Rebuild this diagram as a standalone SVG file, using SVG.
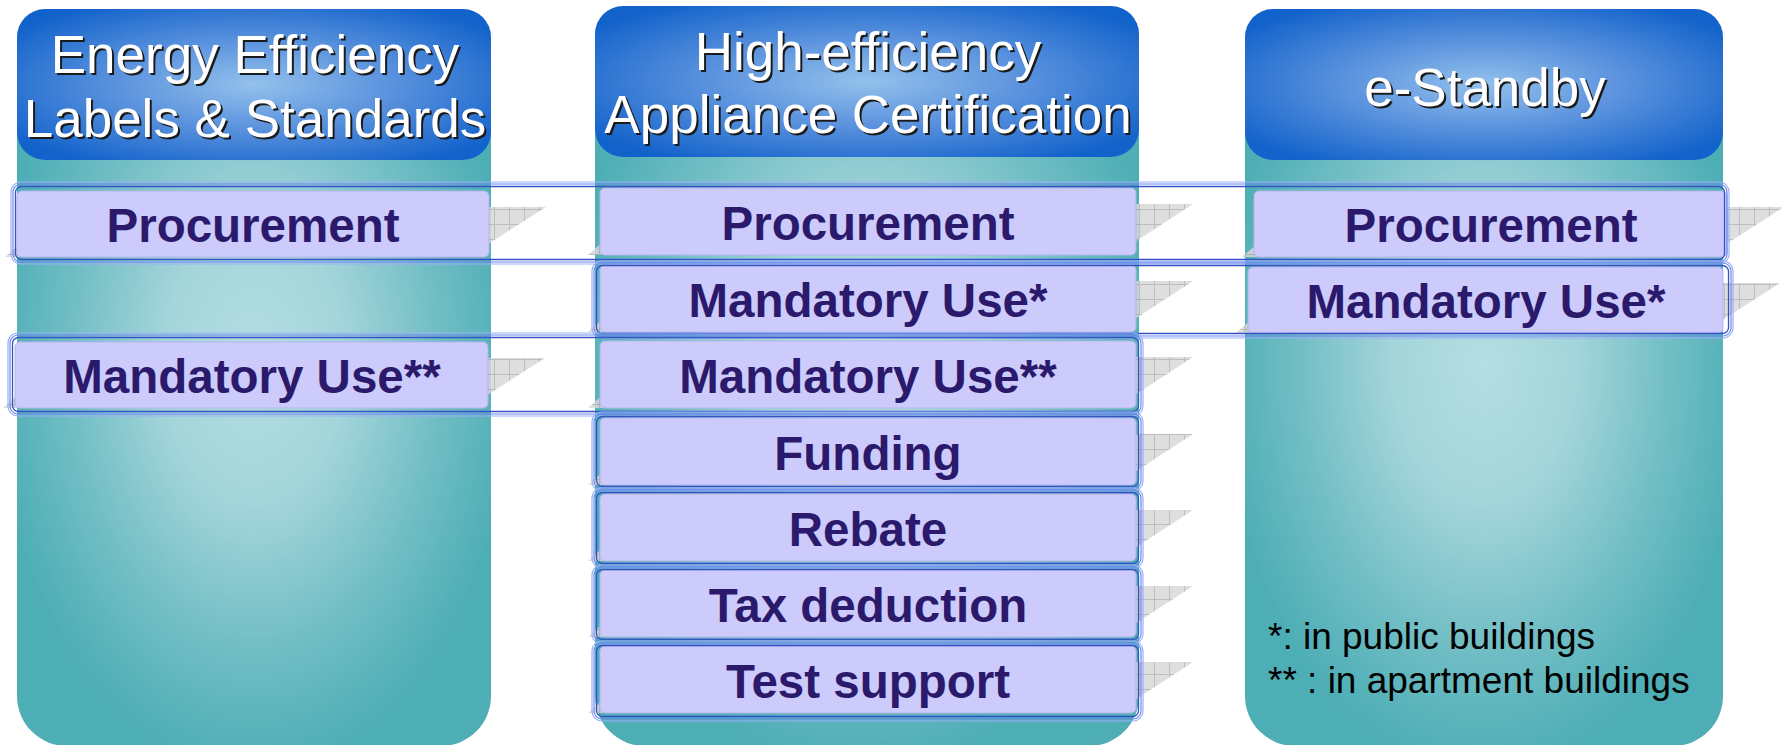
<svg xmlns="http://www.w3.org/2000/svg" width="1782" height="745" viewBox="0 0 1782 745">
<style>
.hdr{font-family:"Liberation Sans",Arial,sans-serif;font-size:53px;text-anchor:middle}
.hw{fill:#ffffff}
.hs{fill:#1a1a1a}
.bx{fill:#cccbfb;stroke:#b5b5ea;stroke-width:1}
.bt{font-family:"Liberation Sans",Arial,sans-serif;font-size:47.5px;font-weight:bold;fill:#2b1a6c;text-anchor:middle}
.sh{fill:url(#grid);opacity:0.85}
.o1{fill:none;stroke:#9cb0f7;stroke-width:1.2}
.o2{fill:none;stroke:#6a88ee;stroke-width:1.2}
.o3{fill:none;stroke:#3752c8;stroke-width:1.3}
.fn{font-family:"Liberation Sans",Arial,sans-serif;font-size:37px;fill:#000000}
</style>
<defs>
<radialGradient id="bodyGrad" cx="0.5" cy="0.48" r="0.55">
<stop offset="0" stop-color="#b4dee2"/>
<stop offset="0.35" stop-color="#a3d5da"/>
<stop offset="0.7" stop-color="#72bec5"/>
<stop offset="1" stop-color="#4eaeb6"/>
</radialGradient>
<radialGradient id="hdrGrad" cx="0.5" cy="0.5" r="0.62">
<stop offset="0" stop-color="#93c1ec"/>
<stop offset="0.45" stop-color="#5d94de"/>
<stop offset="1" stop-color="#1262cb"/>
</radialGradient>
<pattern id="grid" patternUnits="userSpaceOnUse" width="15" height="15">
<rect width="15" height="15" fill="#d8d8d8"/>
<path d="M14.5 0V15M0 14.5H15" stroke="#b2b2b2" stroke-width="1"/>
</pattern>
</defs>

<g id="col-labels">
<rect x="17" y="9" width="474" height="737" rx="50" fill="url(#bodyGrad)"/>
<rect x="17" y="9" width="474" height="151" rx="28" fill="url(#hdrGrad)"/>
<text class="hdr hs" x="257" y="75">Energy Efficiency</text>
<text class="hdr hw" x="255" y="73">Energy Efficiency</text>
<text class="hdr hs" x="257" y="139">Labels &amp; Standards</text>
<text class="hdr hw" x="255" y="137">Labels &amp; Standards</text>
</g>

<g id="col-cert">
<rect x="595" y="6" width="544" height="740" rx="50" fill="url(#bodyGrad)"/>
<rect x="595" y="6" width="544" height="151" rx="28" fill="url(#hdrGrad)"/>
<text class="hdr hs" x="870" y="72">High-efficiency</text>
<text class="hdr hw" x="868" y="70">High-efficiency</text>
<text class="hdr hs" x="870" y="135">Appliance Certification</text>
<text class="hdr hw" x="868" y="133">Appliance Certification</text>
</g>

<g id="col-standby">
<rect x="1245" y="9" width="478" height="737" rx="50" fill="url(#bodyGrad)"/>
<rect x="1245" y="9" width="478" height="151" rx="28" fill="url(#hdrGrad)"/>
<text class="hdr hs" x="1487" y="108">e-Standby</text>
<text class="hdr hw" x="1485" y="106">e-Standby</text>
</g>

<g id="n-labels-procurement">
<polygon class="sh" points="62,207 546,207 468,257 5,257"/>
<rect class="bx" x="17" y="191" width="472" height="66" rx="5"/>
<text class="bt" x="253" y="242">Procurement</text>
</g>
<g id="n-labels-mandatory">
<polygon class="sh" points="60,358 545,358 467,408 3,408"/>
<rect class="bx" x="15" y="342" width="473" height="66" rx="5"/>
<text class="bt" x="252" y="393">Mandatory Use**</text>
</g>

<g id="n-cert-procurement">
<polygon class="sh" points="645,204 1193,204 1115,255 588,255"/>
<rect class="bx" x="600" y="188" width="536" height="67" rx="5"/>
<text class="bt" x="868" y="240">Procurement</text>
</g>
<g id="n-cert-mandatory1">
<polygon class="sh" points="645,281 1193,281 1115,332 588,332"/>
<rect class="bx" x="600" y="265" width="536" height="67" rx="5"/>
<text class="bt" x="868" y="317">Mandatory Use*</text>
</g>
<g id="n-cert-mandatory2">
<polygon class="sh" points="645,357 1193,357 1115,408 588,408"/>
<rect class="bx" x="600" y="341" width="536" height="67" rx="5"/>
<text class="bt" x="868" y="393">Mandatory Use**</text>
</g>
<g id="n-cert-funding">
<polygon class="sh" points="645,434 1193,434 1115,485 588,485"/>
<rect class="bx" x="600" y="418" width="536" height="67" rx="5"/>
<text class="bt" x="868" y="470">Funding</text>
</g>
<g id="n-cert-rebate">
<polygon class="sh" points="645,510 1193,510 1115,561 588,561"/>
<rect class="bx" x="600" y="494" width="536" height="67" rx="5"/>
<text class="bt" x="868" y="546">Rebate</text>
</g>
<g id="n-cert-tax">
<polygon class="sh" points="645,586 1193,586 1115,637 588,637"/>
<rect class="bx" x="600" y="570" width="536" height="67" rx="5"/>
<text class="bt" x="868" y="622">Tax deduction</text>
</g>
<g id="n-cert-test">
<polygon class="sh" points="645,662 1193,662 1115,713 588,713"/>
<rect class="bx" x="600" y="646" width="536" height="67" rx="5"/>
<text class="bt" x="868" y="698">Test support</text>
</g>

<g id="n-standby-procurement">
<polygon class="sh" points="1299,207 1784,207 1706,257 1242,257"/>
<rect class="bx" x="1254" y="191" width="473" height="66" rx="5"/>
<text class="bt" x="1491" y="242">Procurement</text>
</g>
<g id="n-standby-mandatory">
<polygon class="sh" points="1293,283 1780,283 1702,333 1236,333"/>
<rect class="bx" x="1248" y="267" width="475" height="66" rx="5"/>
<text class="bt" x="1486" y="318">Mandatory Use*</text>
</g>

<g id="connectors">
<rect class="o1" x="11" y="182" width="1718" height="82" rx="10"/>
<rect class="o2" x="13" y="184" width="1714" height="78" rx="8"/>
<rect class="o3" x="15.5" y="186.5" width="1709" height="73" rx="6"/>

<rect class="o1" x="592" y="261" width="1141" height="77" rx="10"/>
<rect class="o2" x="594" y="263" width="1137" height="73" rx="8"/>
<rect class="o3" x="596.5" y="265.5" width="1132" height="68" rx="6"/>

<rect class="o1" x="8" y="333" width="1135" height="83" rx="10"/>
<rect class="o2" x="10" y="335" width="1131" height="79" rx="8"/>
<rect class="o3" x="12.5" y="337.5" width="1126" height="74" rx="6"/>

<rect class="o1" x="592" y="412" width="551" height="79" rx="10"/>
<rect class="o2" x="594" y="414" width="547" height="75" rx="8"/>
<rect class="o3" x="596.5" y="416.5" width="542" height="70" rx="6"/>

<rect class="o1" x="592" y="488" width="551" height="80" rx="10"/>
<rect class="o2" x="594" y="490" width="547" height="76" rx="8"/>
<rect class="o3" x="596.5" y="492.5" width="542" height="71" rx="6"/>

<rect class="o1" x="592" y="565" width="551" height="79" rx="10"/>
<rect class="o2" x="594" y="567" width="547" height="75" rx="8"/>
<rect class="o3" x="596.5" y="569.5" width="542" height="70" rx="6"/>

<rect class="o1" x="592" y="641" width="551" height="80" rx="10"/>
<rect class="o2" x="594" y="643" width="547" height="76" rx="8"/>
<rect class="o3" x="596.5" y="645.5" width="542" height="71" rx="6"/>
</g>

<g id="footnote">
<text class="fn" x="1268" y="649">*: in public buildings</text>
<text class="fn" x="1268" y="693">** : in apartment buildings</text>
</g>
</svg>
